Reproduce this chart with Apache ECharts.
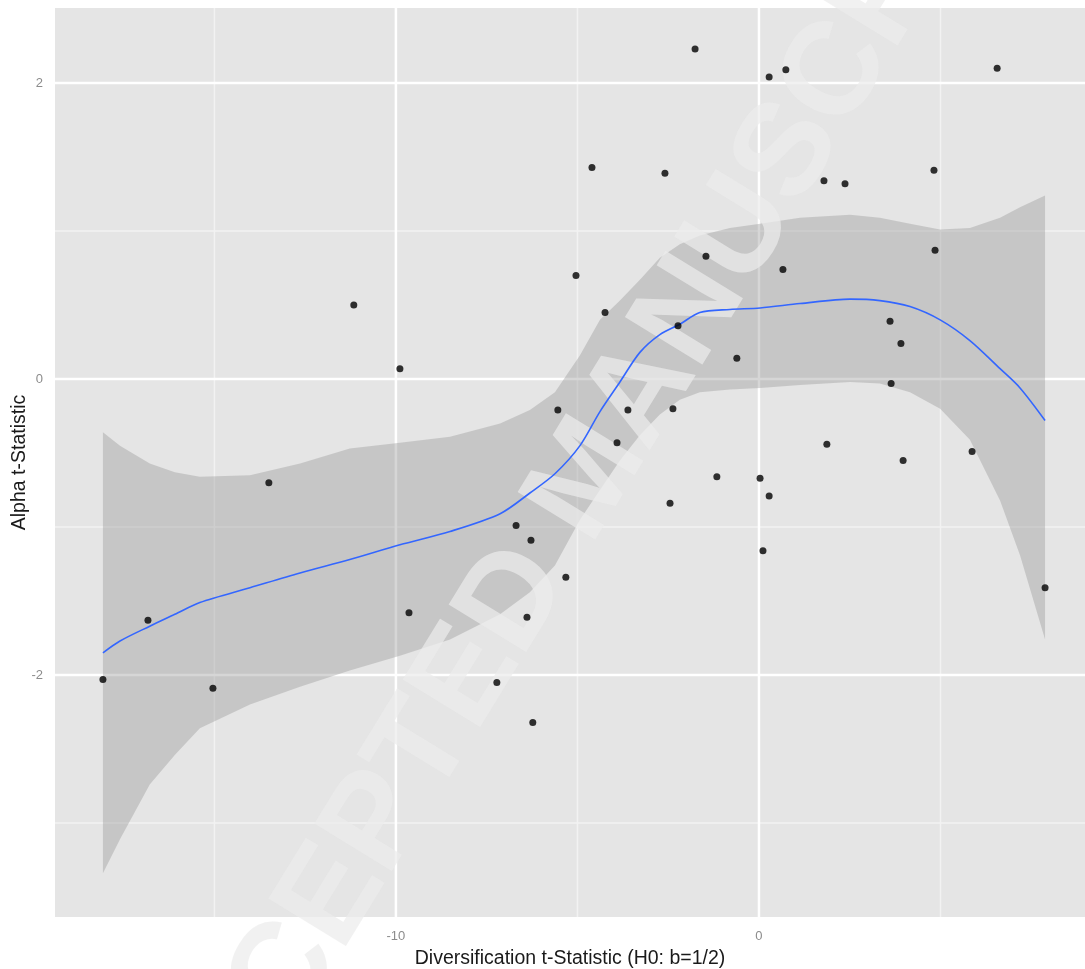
<!DOCTYPE html>
<html>
<head>
<meta charset="utf-8">
<script src="https://cdn.jsdelivr.net/npm/echarts@6/dist/echarts.min.js"></script>
<style>
  html, body { margin: 0; padding: 0; background: #ffffff; }
  #chart { width: 1085px; height: 969px; }
</style>
</head>
<body>
<div id="chart"></div>
<script>
// Observations: diversification t-statistic (x) vs alpha t-statistic (y)
const pointX = [-18.07, -16.83, -15.04, -13.50, -11.16, -9.89, -9.64, -7.22, -6.69, -6.28,
                -6.39, -6.23, -5.32, -5.54, -5.04, -4.60, -4.24, -3.91, -3.61, -2.59,
                -2.45, -2.37, -2.23, -1.76, -1.46, -1.16, -0.61, 0.03, 0.11, 0.28,
                0.28, 0.74, 0.66, 1.79, 1.87, 2.37, 3.61, 3.64, 3.91, 3.97,
                4.82, 4.85, 5.87, 6.56, 7.88];
const pointY = [-2.03, -1.63, -2.09, -0.70, 0.50, 0.07, -1.58, -2.05, -0.99, -1.09,
                -1.61, -2.32, -1.34, -0.21, 0.70, 1.43, 0.45, -0.43, -0.21, 1.39,
                -0.84, -0.20, 0.36, 2.23, 0.83, -0.66, 0.14, -0.67, -1.16, 2.04,
                -0.79, 2.09, 0.74, 1.34, -0.44, 1.32, 0.39, -0.03, 0.24, -0.55,
                1.41, 0.87, -0.49, 2.10, -1.41];

// Local regression fit and its confidence band
const fitX = [-18.07, -17.60, -16.78, -16.09, -15.40, -14.02, -12.64, -11.27, -9.89, -8.51,
              -7.13, -6.31, -5.62, -4.93, -4.38, -3.83, -3.28, -2.73, -2.18, -1.63,
              -0.80, 0.03, 1.13, 2.51, 3.33, 4.16, 4.99, 5.81, 6.64, 7.19, 7.88];
const fitY = [-1.85, -1.77, -1.67, -1.59, -1.51, -1.41, -1.31, -1.22, -1.12, -1.03,
              -0.91, -0.77, -0.64, -0.45, -0.22, -0.02, 0.18, 0.30, 0.37, 0.45,
              0.47, 0.48, 0.51, 0.54, 0.53, 0.49, 0.40, 0.26, 0.07, -0.06, -0.28];
const bandHigh = [-0.36, -0.45, -0.57, -0.63, -0.66, -0.65, -0.57, -0.47, -0.43, -0.39,
                  -0.30, -0.21, -0.09, 0.16, 0.40, 0.53, 0.67, 0.82, 0.91, 0.97,
                  1.02, 1.05, 1.09, 1.11, 1.09, 1.05, 1.01, 1.02, 1.09, 1.16, 1.24];
const bandLow = [-3.34, -3.11, -2.74, -2.54, -2.36, -2.20, -2.08, -1.97, -1.87, -1.76,
                 -1.59, -1.44, -1.26, -0.95, -0.75, -0.55, -0.38, -0.24, -0.14, -0.09,
                 -0.07, -0.06, -0.04, -0.02, -0.03, -0.09, -0.20, -0.41, -0.82, -1.19, -1.76];

// Axis ticks
const xMajorTicks = [-10, 0];
const xMinorTicks = [-15, -5, 5];
const yMajorTicks = [-2, 0, 2];
const yMinorTicks = [-3, -1, 1];

const xRange = [-19.39, 8.98];
const yRange = [-3.635, 2.507];

const chart = echarts.init(document.getElementById('chart'), null, { renderer: 'canvas' });

// Full-width / full-height grid rules at the given axis values
function gridLines(vertical, color, width) {
  return function (params, api) {
    const cs = params.coordSys;
    const v = api.value(vertical ? 0 : 1);
    if (vertical) {
      const x = api.coord([v, 0])[0];
      return { type: 'line', shape: { x1: x, y1: cs.y, x2: x, y2: cs.y + cs.height },
               style: { stroke: color, lineWidth: width }, silent: true };
    }
    const y = api.coord([0, v])[1];
    return { type: 'line', shape: { x1: cs.x, y1: y, x2: cs.x + cs.width, y2: y },
             style: { stroke: color, lineWidth: width }, silent: true };
  };
}

const option = {
  animation: false,
  backgroundColor: '#ffffff',
  textStyle: { fontFamily: '"Liberation Sans", Arial, sans-serif' },
  grid: {
    left: 55, right: 0, top: 8, bottom: 52,
    containLabel: false, outerBoundsMode: 'none',
    show: true, backgroundColor: '#E5E5E5', borderWidth: 0
  },
  xAxis: {
    type: 'value', min: xRange[0], max: xRange[1],
    name: 'Diversification t-Statistic (H0: b=1/2)',
    nameLocation: 'middle', nameGap: 32, nameMoveOverlap: false,
    nameTextStyle: { fontSize: 19.5, color: '#1a1a1a' },
    axisLine: { show: false },
    axisTick: { show: true, length: 4, customValues: xMajorTicks, lineStyle: { color: '#7f7f7f', width: 1 } },
    axisLabel: { customValues: xMajorTicks, color: '#8c8c8c', fontSize: 13, margin: 13 },
    splitLine: { show: false }
  },
  yAxis: {
    type: 'value', min: yRange[0], max: yRange[1],
    name: 'Alpha t-Statistic',
    nameLocation: 'middle', nameGap: 25, nameRotate: 90, nameMoveOverlap: false,
    nameTextStyle: { fontSize: 19.5, color: '#1a1a1a' },
    axisLine: { show: false },
    axisTick: { show: true, length: 4, customValues: yMajorTicks, lineStyle: { color: '#7f7f7f', width: 1 } },
    axisLabel: { customValues: yMajorTicks, color: '#8c8c8c', fontSize: 13, margin: 12 },
    splitLine: { show: false }
  },
  series: [
    { type: 'custom', z: 1, silent: true, renderItem: gridLines(false, '#F2F2F2', 1.5),
      data: yMinorTicks.map(v => [xRange[0], v]) },
    { type: 'custom', z: 1, silent: true, renderItem: gridLines(true, '#F2F2F2', 1.5),
      data: xMinorTicks.map(v => [v, yRange[0]]) },
    { type: 'custom', z: 1, silent: true, renderItem: gridLines(false, '#FFFFFF', 2.5),
      data: yMajorTicks.map(v => [xRange[0], v]) },
    { type: 'custom', z: 1, silent: true, renderItem: gridLines(true, '#FFFFFF', 2.5),
      data: xMajorTicks.map(v => [v, yRange[0]]) },
    {
      // confidence band: upper edge left to right, lower edge right to left
      type: 'custom', z: 2, silent: true,
      data: [[fitX[0], fitY[0]]],
      renderItem: function (params, api) {
        const pts = [];
        for (let i = 0; i < fitX.length; i++) pts.push(api.coord([fitX[i], bandHigh[i]]));
        for (let i = fitX.length - 1; i >= 0; i--) pts.push(api.coord([fitX[i], bandLow[i]]));
        return { type: 'polygon', shape: { points: pts },
                 style: { fill: 'rgba(153,153,153,0.4)', stroke: null } };
      }
    },
    {
      type: 'line', z: 3, silent: true, smooth: 0.3, showSymbol: false,
      data: fitX.map((x, i) => [x, fitY[i]]),
      lineStyle: { color: '#3366FF', width: 1.6 }
    },
    {
      type: 'scatter', z: 4, silent: true, symbolSize: 7,
      itemStyle: { color: '#000000' },
      data: pointX.map((x, i) => [x, pointY[i]])
    }
  ],
  graphic: [
    {
      // diagonal stamp, laid over the band but under the fit line and points
      type: 'text', z: 2.5, silent: true,
      x: 590, y: 478, rotation: 58.5 * Math.PI / 180,
      style: {
        text: 'ACCEPTED MANUSCRIPT',
        font: 'bold 132px "Liberation Sans", Arial, sans-serif',
        fill: 'rgba(236,236,236,0.72)',
        align: 'center', verticalAlign: 'middle',
        textAlign: 'center', textVerticalAlign: 'middle'
      }
    }
  ]
};

chart.setOption(option);
</script>
</body>
</html>
